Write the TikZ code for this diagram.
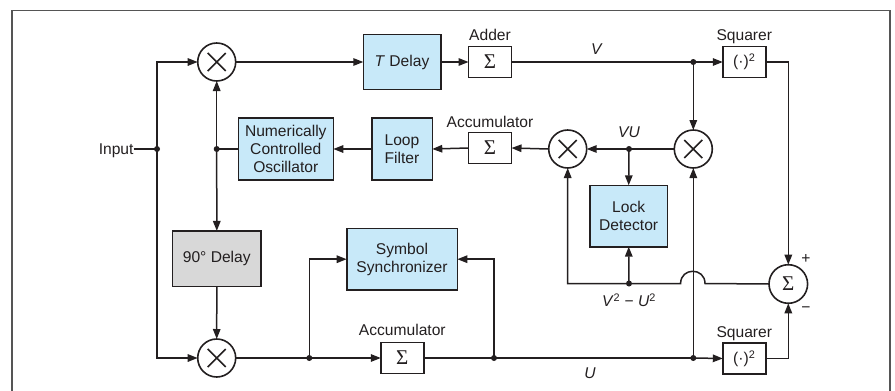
\documentclass[tikz,border=0pt]{standalone}
\usepackage{fontspec}
\setmainfont{Liberation Sans}
\newfontfamily\sigfont{Liberation Serif}
\usetikzlibrary{arrows.meta}
\definecolor{boxblue}{RGB}{200,233,249}
\definecolor{boxgray}{RGB}{216,216,216}
\definecolor{linecol}{RGB}{35,31,32}
\definecolor{framecol}{RGB}{85,85,85}
\newcommand{\sig}{{\sigfont\fontsize{21}{21}\selectfont Σ}}
\begin{document}
\begin{tikzpicture}[x=1pt,y=-1pt,
  font=\fontsize{15.6}{17.6}\selectfont,
  every node/.style={inner sep=0pt, outer sep=0pt, text=linecol},
  conn/.style={line width=1.5pt, draw=linecol},
  arr/.style={conn, -{Triangle[length=10pt,width=7.5pt]}},
  blk/.style={draw=linecol, line width=1.6pt, fill=boxblue, align=center},
  sbox/.style={draw=linecol, line width=1.6pt, fill=white, minimum width=43pt, minimum height=31pt},
  mixer/.style={circle, draw=linecol, line width=1.6pt, fill=white, minimum size=38pt,
    path picture={\draw[line width=1.6pt, linecol]
      ([shift={(-9pt,-9pt)}]path picture bounding box.center) -- ([shift={(9pt,9pt)}]path picture bounding box.center)
      ([shift={(-9pt,9pt)}]path picture bounding box.center) -- ([shift={(9pt,-9pt)}]path picture bounding box.center);}},
  sumc/.style={circle, draw=linecol, line width=1.6pt, fill=white, minimum size=38.6pt},
  jdot/.style={circle, fill=linecol, minimum size=6pt},
  lbl/.style={anchor=base}]
\useasboundingbox (0,0) rectangle (895,391);
% frame
\draw[line width=1.6pt, draw=framecol] (12,400) -- (12,10.6) -- (890,10.6) -- (890,400);

% nodes
\node[mixer] (m1) at (216.7,62) {};
\node[mixer] (m2) at (216.7,358) {};
\node[mixer] (m3) at (567.7,149) {};
\node[mixer] (m4) at (693.3,149) {};
\node[sumc] (sum) at (788.3,284) {\sig};
\node[blk, minimum width=77.4pt, minimum height=55pt] (td) at (402,62) {\textit{T} Delay};
\node[sbox] (add) at (490,62) {\sig};
\node[sbox] (sq1) at (744.3,62) {(·)\textsuperscript{2}};
\node[sbox] (acc1) at (490,148) {\sig};
\node[blk, minimum width=95pt, minimum height=62.3pt] (nco) at (285.8,149) {Numerically\\Controlled\\Oscillator};
\node[blk, minimum width=60.6pt, minimum height=62.3pt] (lf) at (402,149) {Loop\\Filter};
\node[blk, minimum width=77.3pt, minimum height=61.4pt] (ld) at (628.7,216) {Lock\\Detector};
\node[blk, fill=boxgray, minimum width=88.3pt, minimum height=55.7pt] (d90) at (216.8,258.8) {90° Delay};
\node[blk, minimum width=110.6pt, minimum height=61.7pt] (ss) at (402,259.2) {Symbol\\Synchronizer};
\node[sbox] (acc2) at (402.3,358) {\sig};
\node[sbox] (sq2) at (744.3,358.5) {(·)\textsuperscript{2}};

\node[anchor=base east] (input) at (133.5,154) {Input};

% labels
\node[lbl] (ladd) at (490,40) {Adder};
\node[lbl] (lsq1) at (744.3,40) {Squarer};
\node[lbl] (lacc1) at (490,127.3) {Accumulator};
\node[lbl] (lv) at (597,54) {\textit{V}};
\node[lbl] (lvu) at (629,137.7) {\textit{VU}};
\node[lbl] (lvu2) at (629,306.7) {\textit{V}\textsuperscript{2} − \textit{U}\textsuperscript{2}};
\node[lbl] (lacc2) at (402.3,335.7) {Accumulator};
\node[lbl] (lsq2) at (744.3,337.3) {Squarer};
\node[lbl] (lu) at (590,378.3) {\textit{U}};
\node (lplus) at (806,259) {+};
\node (lminus) at (806,310) {−};

% junctions
\coordinate (jin) at (157,149);
\coordinate (jn) at (216.7,149);
\coordinate (jv) at (693.3,62);
\coordinate (jvu) at (629,149);
\coordinate (jl) at (629,283.5);
\coordinate (j1) at (309.3,358);
\coordinate (j2) at (494,358);
\coordinate (ju) at (693.3,358);
\coordinate (hr) at (705,283.5);
\coordinate (hl) at (680.6,283.5);

% connectors
\draw[conn] (input.east |- jin) -- (jin);
\draw[arr] (jin) |- (m1.west);
\draw[arr] (jin) |- (m2.west);
\draw[arr] (jn) -- (m1.south);
\draw[arr] (jn) -- (d90.north);
\draw[arr] (d90.south) -- (m2.north);
\draw[conn] (nco.west) -- (jn);
\draw[arr] (m1.east) -- (td.west);
\draw[arr] (td.east) -- (add.west);
\draw[conn] (add.east) -- (jv);
\draw[arr] (jv) -- (sq1.west);
\draw[arr] (jv) -- (m4.north);
\draw[arr] (sq1.east) -| (sum.north);
\draw[conn] (m4.west) -- (jvu);
\draw[arr] (jvu) -- (m3.east);
\draw[arr] (jvu) -- (ld.north);
\draw[arr] (m3.west) -- (acc1.east);
\draw[arr] (acc1.west) -- (lf.east);
\draw[arr] (lf.west) -- (nco.east);
\draw[conn] (m2.east) -- (j1);
\draw[arr] (j1) -- (acc2.west);
\draw[arr] (j1) |- (ss.west);
\draw[conn] (acc2.east) -- (j2) -- (ju);
\draw[arr] (j2) |- (ss.east);
\draw[arr] (ju) -- (sq2.west);
\draw[arr] (ju) -- (m4.south);
\draw[arr] (sq2.east) -| (sum.south);
\draw[arr] (sum.west) -- (hr) .. controls (705,267.2) and (680.6,267.2) .. (hl) -| (m3.south);
\draw[arr] (jl) -- (ld.south);

% dots
\foreach \p in {jin,jn,jv,jvu,jl,j1,j2,ju} \node[jdot] at (\p) {};
\end{tikzpicture}
\end{document}
